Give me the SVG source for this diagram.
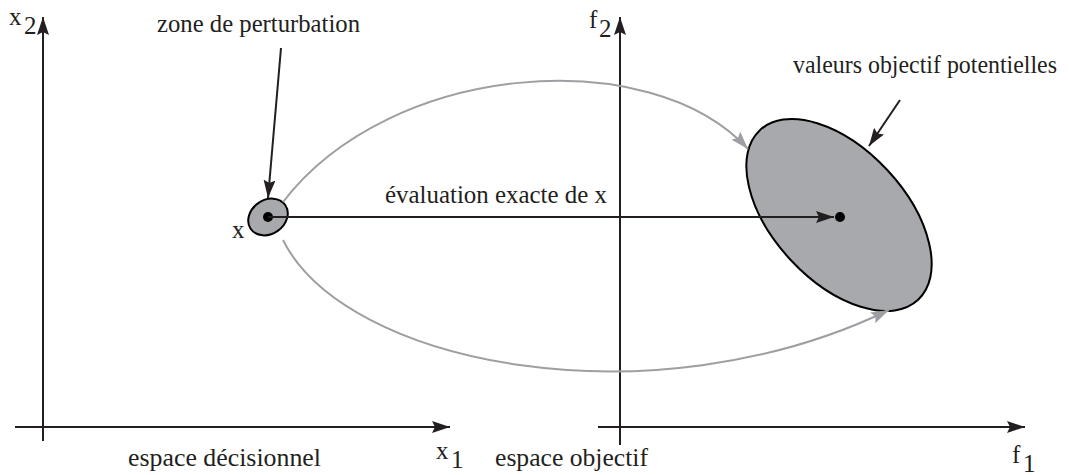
<svg xmlns="http://www.w3.org/2000/svg" width="1069" height="475" viewBox="0 0 1069 475">
<style>
.lbl{font-family:"Liberation Serif","DejaVu Serif","Noto Serif",serif;font-size:25px;fill:#231f20}
.ax{stroke:#231f20;stroke-width:2;fill:none}
.blk{stroke:#231f20;stroke-width:2;fill:none}
.gry{stroke:#9d9fa2;stroke-width:2;fill:none}
</style>
<defs>
<marker id="ab" markerUnits="userSpaceOnUse" markerWidth="20" markerHeight="12" refX="18" refY="6" orient="auto">
<path d="M0,0 L18,6 L0,12 L3,6 Z" fill="#231f20"/>
</marker>
<marker id="ag" markerUnits="userSpaceOnUse" markerWidth="20" markerHeight="12" refX="18" refY="6" orient="auto">
<path d="M0,0 L18,6 L0,12 L3,6 Z" fill="#9d9fa2"/>
</marker>
</defs>
<rect width="1069" height="475" fill="#ffffff"/>
<g id="axes-decision">
<line class="ax" x1="43" y1="441" x2="43" y2="17" marker-end="url(#ab)"/>
<line class="ax" x1="15" y1="427" x2="450" y2="427" marker-end="url(#ab)"/>
<text class="lbl" x="9" y="25">x</text><text class="lbl" x="24" y="34">2</text>
<text class="lbl" x="436" y="459">x</text><text class="lbl" x="451" y="468">1</text>
<text class="lbl" x="128" y="466" textLength="193" lengthAdjust="spacingAndGlyphs">espace décisionnel</text>
</g>
<g id="axes-objectif">
<line class="ax" x1="620" y1="445" x2="620" y2="17" marker-end="url(#ab)"/>
<line class="ax" x1="598" y1="427" x2="1025" y2="427" marker-end="url(#ab)"/>
<text class="lbl" x="589" y="28">f</text><text class="lbl" x="599" y="37">2</text>
<text class="lbl" x="1012" y="463">f</text><text class="lbl" x="1023" y="472">1</text>
<text class="lbl" x="495" y="466" textLength="153" lengthAdjust="spacingAndGlyphs">espace objectif</text>
</g>
<g id="node-objectif">
<ellipse cx="839" cy="215" rx="116" ry="66" transform="rotate(47 839 215)" fill="#a7a9ac" stroke="#000" stroke-width="2"/>
<circle cx="840" cy="217" r="5" fill="#000"/>
<text class="lbl" x="793" y="73" textLength="264" lengthAdjust="spacingAndGlyphs">valeurs objectif potentielles</text>
</g>
<g id="node-x">
<ellipse cx="268" cy="217" rx="21" ry="17" transform="rotate(-35 268 217)" fill="#a7a9ac" stroke="#000" stroke-width="2"/>
<circle cx="268" cy="217" r="5" fill="#000"/>
<text class="lbl" x="232" y="238">x</text>
<text class="lbl" x="157" y="32" textLength="203" lengthAdjust="spacingAndGlyphs">zone de perturbation</text>
</g>
<g id="connectors">
<path class="gry" d="M283,202 C 390,62 650,42 748,149" marker-end="url(#ag)"/>
<path class="gry" d="M283,240 C 345,365 650,425 889,310" marker-end="url(#ag)"/>
<line class="blk" x1="268" y1="217" x2="834" y2="217" marker-end="url(#ab)"/>
<text class="lbl" x="385" y="203" textLength="222" lengthAdjust="spacingAndGlyphs">évaluation exacte de x</text>
<line class="blk" x1="281" y1="48" x2="268" y2="198" marker-end="url(#ab)"/>
<line class="blk" x1="900" y1="100" x2="869" y2="146" marker-end="url(#ab)"/>
</g>
</svg>
